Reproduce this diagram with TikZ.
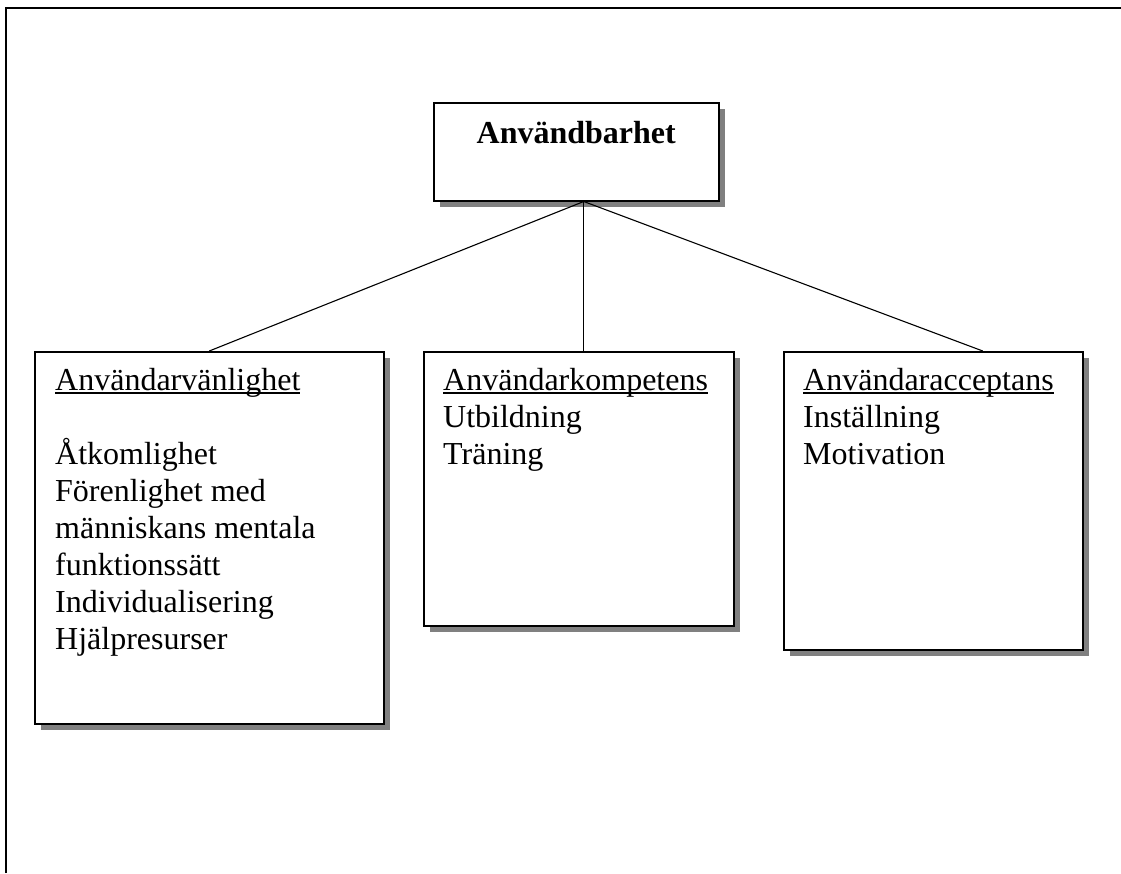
\documentclass[tikz,border=0pt]{standalone}
\usepackage{fontspec}
\setmainfont{Liberation Serif}
\usepackage{tikz}
\usetikzlibrary{shadows}
\newlength\ulwd
\newcommand{\ulhead}[1]{\settowidth{\ulwd}{#1}\rlap{\rule[-3.5pt]{\ulwd}{1.7pt}}#1}
\tikzset{
  basic/.style = {draw, rectangle, line width=1.5pt, fill=white, inner sep=0pt,
                  anchor=north west,
                  general shadow={fill=black!50, shadow xshift=6.5pt, shadow yshift=-6.5pt}},
  root/.style  = {basic, minimum width=285pt, minimum height=98pt},
  level/.style = {basic},
  txt/.style   = {inner sep=0pt, anchor=north west, align=left,
                  font=\fontsize{32}{37}\selectfont},
  link/.style  = {line width=1.1pt}
}
\begin{document}
\begin{tikzpicture}[x=1pt, y=-1pt]
  \useasboundingbox (0,0) rectangle (1121,873);
  % ram
  \draw[line width=2pt] (6,873) -- (6,8) -- (1121,8);
  % rutor
  \node[root] (anv) at (433,102) {};
  \node[level, minimum width=349pt, minimum height=372pt] (vanl) at (34,351) {};
  \node[level, minimum width=310pt, minimum height=274pt] (komp) at (423,351) {};
  \node[level, minimum width=299pt, minimum height=298pt] (acc) at (783,351) {};
  % texter
  \node[inner sep=0pt, anchor=base, font=\fontsize{32}{37}\selectfont\bfseries]
    (anvT) at ([yshift=-41pt]anv.north) {Användbarhet};
  \node[txt] (vanlT) at ([shift={(21pt,-17pt)}]vanl.north west)
    {\ulhead{Användarvänlighet}\\[37pt]
     Åtkomlighet\\
     Förenlighet med\\
     människans mentala\\
     funktionssätt\\
     Individualisering\\
     Hjälpresurser};
  \node[txt] (kompT) at ([shift={(20pt,-17pt)}]komp.north west)
    {\ulhead{Användarkompetens}\\
     Utbildning\\
     Träning};
  \node[txt] (accT) at ([shift={(20pt,-17pt)}]acc.north west)
    {\ulhead{Användaracceptans}\\
     Inställning\\
     Motivation};
  % linjer
  \coordinate (top) at ([xshift=7.5pt]anv.south);
  \draw[link] (top) -- (vanl.north);
  \draw[link] (top) -- (top |- komp.north);
  \draw[link] (top) -- ([xshift=49.5pt]acc.north);
\end{tikzpicture}
\end{document}
